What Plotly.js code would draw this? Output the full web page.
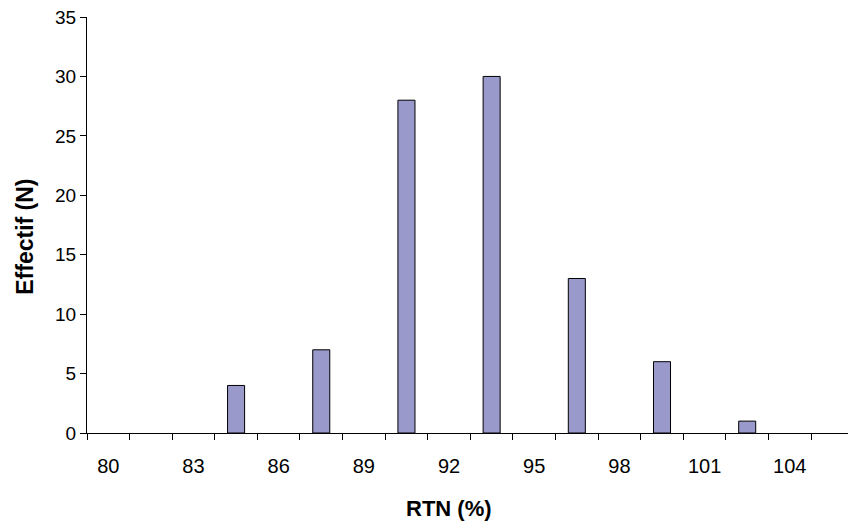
<!DOCTYPE html>
<html>
<head>
<meta charset="utf-8">
<script src="https://cdn.plot.ly/plotly-3.0.1.min.js"></script>
<style>html,body{margin:0;padding:0;background:#fff;}#chart{width:848px;height:525px;}</style>
</head>
<body>
<div id="chart"></div>
<script>
// RTN (%) class centres (Excel category axis, step 1.5)
const rtnClasses = [80, 81.5, 83, 84.5, 86, 87.5, 89, 90.5, 92, 93.5, 95, 96.5, 98, 99.5, 101, 102.5, 104, 105.5];
const effectif   = [0, 0, 0, 4, 0, 7, 0, 28, 0, 30, 0, 13, 0, 6, 0, 1, 0, 0];
const xTickVals  = [80, 83, 86, 89, 92, 95, 98, 101, 104];
const xTickText  = ["80", "83", "86", "89", "92", "95", "98", "101", "104"];
const yTickVals  = [0, 5, 10, 15, 20, 25, 30, 35];
const xTitle = "RTN (%)";
const yTitle = "Effectif (N)";

const font = "Liberation Sans, Arial, sans-serif";

const trace = {
  type: 'bar',
  x: rtnClasses,
  y: effectif,
  marker: {
    color: '#9999cc',
    line: { color: '#000000', width: effectif.map(v => v > 0 ? 1 : 0) }
  },
  hoverinfo: 'x+y'
};

const layout = {
  width: 848, height: 525,
  margin: { l: 87, r: 0, t: 17, b: 92 },
  paper_bgcolor: '#ffffff', plot_bgcolor: '#ffffff',
  bargap: 0.6,
  showlegend: false,
  font: { family: font, size: 16, color: '#000' },
  xaxis: {
    range: [79.25, 106.05],
    tickmode: 'array', tickvals: xTickVals, ticktext: xTickText,
    ticks: '', showgrid: false, zeroline: false,
    showline: true, linecolor: '#000', linewidth: 1,
    tickfont: { family: font, size: 20, color: '#000' },
    ticklabelstandoff: 15,
    minor: { tick0: 79.25, dtick: 1.5, ticks: 'outside', ticklen: 6, tickcolor: '#000', tickwidth: 1, showgrid: false }
  },
  yaxis: {
    range: [0, 35],
    tickmode: 'array', tickvals: yTickVals,
    ticks: 'outside', ticklen: 6, tickcolor: '#000', tickwidth: 1,
    showgrid: false, zeroline: false,
    showline: true, linecolor: '#000', linewidth: 1,
    tickfont: { family: font, size: 19, color: '#000' }
  },
  annotations: [
    { text: '<b>' + xTitle + '</b>', xref: 'paper', yref: 'paper', x: 0.4757, y: -0.181,
      xanchor: 'center', yanchor: 'middle', showarrow: false,
      font: { family: font, size: 22, color: '#000' } },
    { text: '<b>' + yTitle + '</b>', xref: 'paper', yref: 'paper', x: -0.0815, y: 0.4717,
      xanchor: 'center', yanchor: 'middle', showarrow: false, textangle: -90,
      font: { family: font, size: 23, color: '#000' } }
  ]
};

Plotly.newPlot('chart', [trace], layout, { displayModeBar: false, staticPlot: true });
</script>
</body>
</html>
